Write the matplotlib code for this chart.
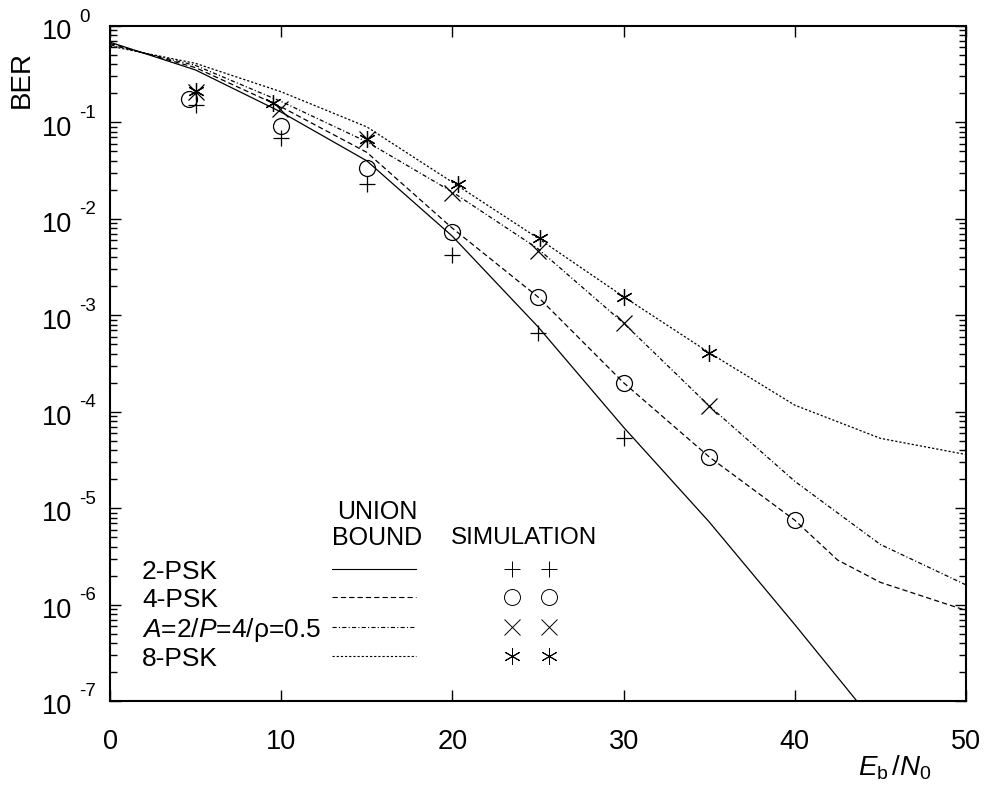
import matplotlib
matplotlib.use("Agg")
import matplotlib.pyplot as plt
import matplotlib.transforms as mtransforms
import numpy as np

plt.rcParams['font.family'] = ['Liberation Sans', 'DejaVu Sans']
plt.rcParams['mathtext.fontset'] = 'custom'
plt.rcParams['mathtext.rm'] = 'Liberation Sans'
plt.rcParams['mathtext.it'] = 'Liberation Sans:italic'
plt.rcParams['lines.scale_dashes'] = False

# ---------------- data ----------------
ebn0 = [0, 5, 10, 15, 20, 25, 30, 35, 40, 45, 50]
bound_2psk = [0.68, 0.35, 0.128, 0.040, 0.0066, 7.6e-4, 6.9e-5, 7.2e-6, 6.2e-7, 5.0e-8, 4.0e-9]
ebn0_4psk = [0, 5, 10, 15, 20, 25, 30, 35, 40, 42.5, 45, 50]
bound_4psk = [0.66, 0.37, 0.145, 0.049, 0.0080, 1.55e-3, 2.0e-4, 3.4e-5, 7.5e-6, 2.9e-6, 1.7e-6, 8.7e-7]
bound_a2p4 = [0.64, 0.39, 0.165, 0.063, 0.019, 4.9e-3, 8.3e-4, 1.15e-4, 1.9e-5, 4.2e-6, 1.6e-6]
bound_8psk = [0.62, 0.41, 0.208, 0.090, 0.024, 6.3e-3, 1.56e-3, 4.1e-4, 1.17e-4, 5.3e-5, 3.6e-5]

sim_2psk_x = [5, 10, 15, 20, 25, 30]
sim_2psk_y = [0.151, 0.069, 0.023, 0.0042, 6.5e-4, 5.3e-5]
sim_4psk_x = [4.6, 10, 15, 20, 25, 30, 35, 40]
sim_4psk_y = [0.175, 0.092, 0.034, 0.0074, 1.55e-3, 2.0e-4, 3.4e-5, 7.5e-6]
sim_a2p4_x = [5, 9.9, 15, 20, 25, 30, 35]
sim_a2p4_y = [0.205, 0.137, 0.067, 0.0185, 0.0046, 8.3e-4, 1.15e-4]
sim_8psk_x = [5, 9.5, 15, 20.3, 25.1, 30, 35]
sim_8psk_y = [0.213, 0.158, 0.068, 0.023, 0.0063, 1.56e-3, 4.1e-4]

row_labels = ['2-PSK', '4-PSK', r'$\mathit{A}$=2/$\mathit{P}$=4/ρ=0.5', '8-PSK']
x_ticks = [0, 10, 20, 30, 40, 50]
y_exponents = [0, -1, -2, -3, -4, -5, -6, -7]

# ---------------- styles ----------------
LW = 0.9
styles = [
    dict(linestyle='-'),
    dict(linestyle=(0, (3.8, 2.2))),
    dict(linestyle=(0, (3.0, 1.6, 0.8, 1.6))),
    dict(linestyle=(0, (1.6, 1.4))),
]
star = (6, 2, 0)
mk = [dict(marker='+', ms=12), dict(marker='o', ms=11.5, mfc='none'),
      dict(marker='x', ms=11), dict(marker=star, ms=12)]

fig = plt.figure(figsize=(9.92, 7.94), dpi=100)
ax = fig.add_axes([0.1109, 0.1171, 0.8629, 0.8501])

curves = [(ebn0, bound_2psk), (ebn0_4psk, bound_4psk), (ebn0, bound_a2p4), (ebn0, bound_8psk)]
for (xx, yy), st in zip(curves, styles):
    ax.plot(xx, yy, color='black', lw=LW, **st)

sims = [(sim_2psk_x, sim_2psk_y), (sim_4psk_x, sim_4psk_y), (sim_a2p4_x, sim_a2p4_y), (sim_8psk_x, sim_8psk_y)]
for (xx, yy), m in zip(sims, mk):
    ax.plot(xx, yy, linestyle='none', color='black', mec='black', mew=0.9, **m)

ax.set_yscale('log')
ax.set_xlim(0, 50)
ax.set_ylim(1e-7, 1)

for s in ax.spines.values():
    s.set_linewidth(1.5)

ax.set_xticks(x_ticks)
ax.set_xticklabels([str(v) for v in x_ticks], fontsize=19.5)
ax.tick_params(axis='x', which='major', direction='in', length=8, width=1, top=True, pad=20)
ax.tick_params(axis='y', which='major', direction='in', length=8, width=1, right=True)
ax.tick_params(axis='y', which='minor', direction='in', length=5, width=1, right=True)
ax.xaxis.set_minor_locator(matplotlib.ticker.NullLocator())
ax.yaxis.set_major_locator(matplotlib.ticker.FixedLocator([10.0**e for e in y_exponents]))
ax.yaxis.set_minor_locator(matplotlib.ticker.LogLocator(base=10, subs=np.arange(2, 10), numticks=20))
ax.set_yticklabels([])

trans = mtransforms.blended_transform_factory(ax.transAxes, ax.transData)
for e in y_exponents:
    v = 10.0**e
    ax.annotate('10', xy=(0, v), xycoords=trans, xytext=(-27, -4.5), textcoords='offset points',
                ha='right', va='center', fontsize=19.5)
    ax.annotate(str(e), xy=(0, v), xycoords=trans, xytext=(-22, 6.5), textcoords='offset points',
                ha='left', va='center', fontsize=13.5)

fig.text(0.022, 0.90, 'BER', rotation=90, ha='center', va='center', fontsize=20)
fig.text(0.902, 0.033, r'$\mathit{E}_{\mathrm{b}}\,/\mathit{N}_{\mathrm{0}}$', ha='center', va='center', fontsize=20)

# ---------------- legend table ----------------
TA = ax.transAxes
row_y = [0.191, 0.1496, 0.105, 0.0622]
ax.text(0.312, 0.280, 'UNION', transform=TA, ha='center', va='center', fontsize=18)
ax.text(0.312, 0.2415, 'BOUND', transform=TA, ha='center', va='center', fontsize=18)
ax.text(0.4836, 0.2415, 'SIMULATION', transform=TA, ha='center', va='center', fontsize=17.5)
for lab, y, st, m in zip(row_labels, row_y, styles, mk):
    ax.text(0.0374, y, lab, transform=TA, ha='left', va='center', fontsize=19)
    ax.plot([0.259, 0.358], [y + 0.004, y + 0.004], transform=TA, color='black', lw=0.8, **st)
    ax.plot([0.4696, 0.5128], [y + 0.004, y + 0.004], transform=TA, linestyle='none',
            color='black', mec='black', mew=0.7, **m)

fig.savefig('out.png', dpi=100)
